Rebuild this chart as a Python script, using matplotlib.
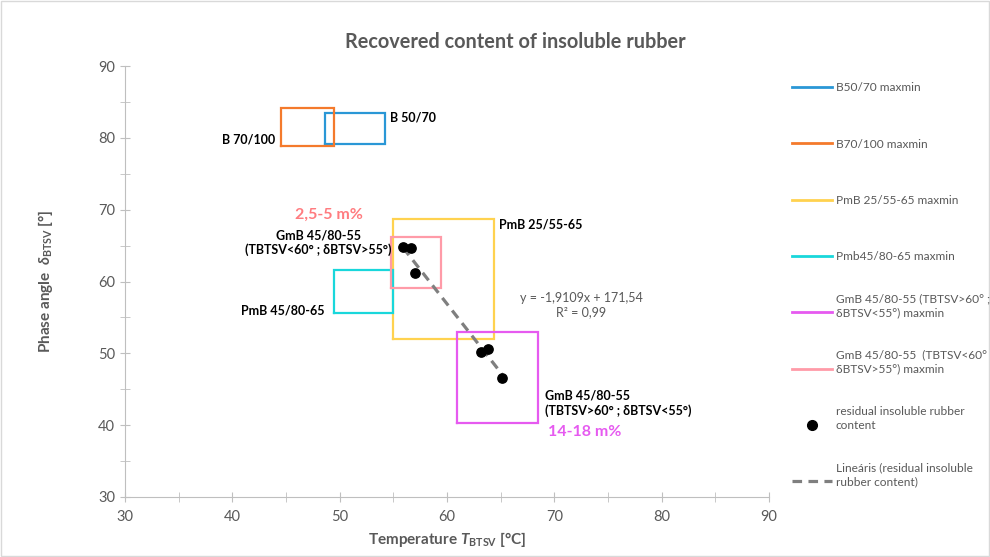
import matplotlib
matplotlib.use("Agg")
import matplotlib.pyplot as plt
import numpy as np
from matplotlib.patches import Rectangle
from matplotlib.lines import Line2D

plt.rcParams['font.family'] = ['Lato', 'DejaVu Sans']
plt.rcParams['mathtext.fontset'] = 'custom'
plt.rcParams['mathtext.rm'] = 'Lato'
plt.rcParams['mathtext.it'] = 'Lato:italic:bold'
plt.rcParams['mathtext.bf'] = 'Lato:bold'

# ---- data ----
box_labels = ["B50/70 maxmin", "B70/100 maxmin", "PmB 25/55-65 maxmin",
              "Pmb45/80-65 maxmin",
              "GmB 45/80-55 (TBTSV>60° ;\nδBTSV<55°) maxmin",
              "GmB 45/80-55  (TBTSV<60°\nδBTSV>55°) maxmin"]
box_tmin = [48.6, 44.5, 55.0, 49.5, 60.9, 54.8]
box_tmax = [54.2, 49.5, 64.4, 55.0, 68.5, 59.4]
box_dmin = [79.1, 78.9, 52.0, 55.6, 40.3, 59.1]
box_dmax = [83.4, 84.1, 68.7, 61.6, 53.0, 66.2]
box_colors = ["#2A97D6", "#F47A2C", "#FFD24F", "#19D7DB", "#E65AF0", "#FF9BA8"]

pts_T = [55.9, 56.6, 57.0, 63.2, 63.8, 65.1]
pts_d = [64.8, 64.6, 61.2, 50.2, 50.6, 46.6]
pts_label = "residual insoluble rubber\ncontent"
slope, intercept = -1.9109, 171.54
trend_label = "Lineáris (residual insoluble\nrubber content)"

xticks = [30, 40, 50, 60, 70, 80, 90]
yticks = [30, 40, 50, 60, 70, 80, 90]

grey = "#595959"
W, H = 990, 557

fig = plt.figure(figsize=(9.9, 5.57), dpi=100)
ax = fig.add_axes([125/W, 1-497/H, (769-125)/W, (497-66)/H])

for lab, x0, x1, y0, y1, c in zip(box_labels, box_tmin, box_tmax, box_dmin, box_dmax, box_colors):
    ax.plot([x0, x1, x1, x0, x0], [y0, y0, y1, y1, y0], color=c, lw=1.6,
            label=lab, solid_joinstyle='miter')

ax.scatter(pts_T, pts_d, s=45, color='black', zorder=5, label=pts_label)
xt = np.array([min(pts_T), max(pts_T)])
trend_style = dict(color="#7F7F7F", lw=2.3, ls=(0, (3, 2)))
ax.plot(xt, slope*xt + intercept, zorder=4, label=trend_label, **trend_style)

ax.set_xlim(30, 90)
ax.set_ylim(30, 90)
ax.set_xticks(xticks)
ax.set_yticks(yticks)
ax.set_xticks(np.arange(35, 90, 10), minor=True)
ax.set_yticks(np.arange(35, 90, 10), minor=True)
for s in ['top', 'right']:
    ax.spines[s].set_visible(False)
for s in ['left', 'bottom']:
    ax.spines[s].set_color('#BFBFBF')
ax.tick_params(which='both', direction='inout', length=7, color='#BFBFBF',
               labelcolor=grey, labelsize=10.5)
ax.tick_params(axis='x', pad=6)

ax.set_xlabel(r"Temperature $\mathit{T}_{\mathregular{BTSV}}$ [°C]", color=grey,
              fontsize=11, fontweight='bold', labelpad=4)
ax.set_ylabel(r"Phase angle  $\mathit{\delta}_{\mathregular{BTSV}}$ [°]", color=grey,
              fontsize=11, fontweight='bold', labelpad=31)

fig.text(515/W, 1-42/H, "Recovered content of insoluble rubber", ha='center',
         va='center', fontsize=14.3, fontweight='bold', color=grey)

bold_kw = dict(fontsize=9, fontweight='bold', color='black')
ax.text(54.7, 82.8, "B 50/70", ha='left', va='center', **bold_kw)
ax.text(44.0, 79.7, "B 70/100", ha='right', va='center', **bold_kw)
ax.text(49.0, 69.3, "2,5-5 m%", ha='center', va='center', fontsize=11.5,
        color="#FF7C80", fontweight='bold')
ax.text(48.0, 65.4, "GmB 45/80-55\n(TBTSV<60° ; δBTSV>55°)", ha='center', va='center',
        linespacing=1.25, **bold_kw)
ax.text(64.8, 67.9, "PmB 25/55-65", ha='left', va='center', **bold_kw)
ax.text(48.6, 56.0, "PmB 45/80-65", ha='right', va='center', **bold_kw)
ax.text(72.5, 56.7, "y = -1,9109x + 171,54\nR² = 0,99", ha='center', va='center',
        fontsize=9, color=grey, linespacing=1.25)
ax.text(69.1, 43.1, "GmB 45/80-55\n(TBTSV>60° ; δBTSV<55°)", ha='left', va='center',
        linespacing=1.25, **bold_kw)
ax.text(69.4, 39.0, "14-18 m%", ha='left', va='center', fontsize=11.5,
        color="#E65AF0", fontweight='bold')

# ---- legend (Excel style: entries evenly spaced by first line) ----
leg_labels = box_labels + [pts_label, trend_label]
hx0, hx1, tx = 792, 832, 836
y_first, y_step = 87, 56.3
for i, lab in enumerate(leg_labels):
    yp = y_first + i * y_step
    yf = 1 - yp / H
    if i < len(box_colors):
        fig.add_artist(Line2D([hx0/W, hx1/W], [yf, yf], transform=fig.transFigure,
                              color=box_colors[i], lw=2))
    elif lab == pts_label:
        fig.add_artist(Line2D([(hx0+hx1)/2/W], [yf], transform=fig.transFigure,
                              marker='o', ms=7, color='black', ls='none'))
    else:
        fig.add_artist(Line2D([hx0/W, hx1/W], [yf, yf], transform=fig.transFigure,
                              **trend_style))
    fig.text(tx/W, 1 - (yp + 4.2)/H, lab, ha='left', va='baseline', fontsize=8.55,
             color=grey, linespacing=1.35)

fig.add_artist(Rectangle((0.001, 0.001), 0.998, 0.998, transform=fig.transFigure,
                         fill=False, edgecolor='#D9D9D9', lw=1))

fig.savefig("out.png", dpi=100)
